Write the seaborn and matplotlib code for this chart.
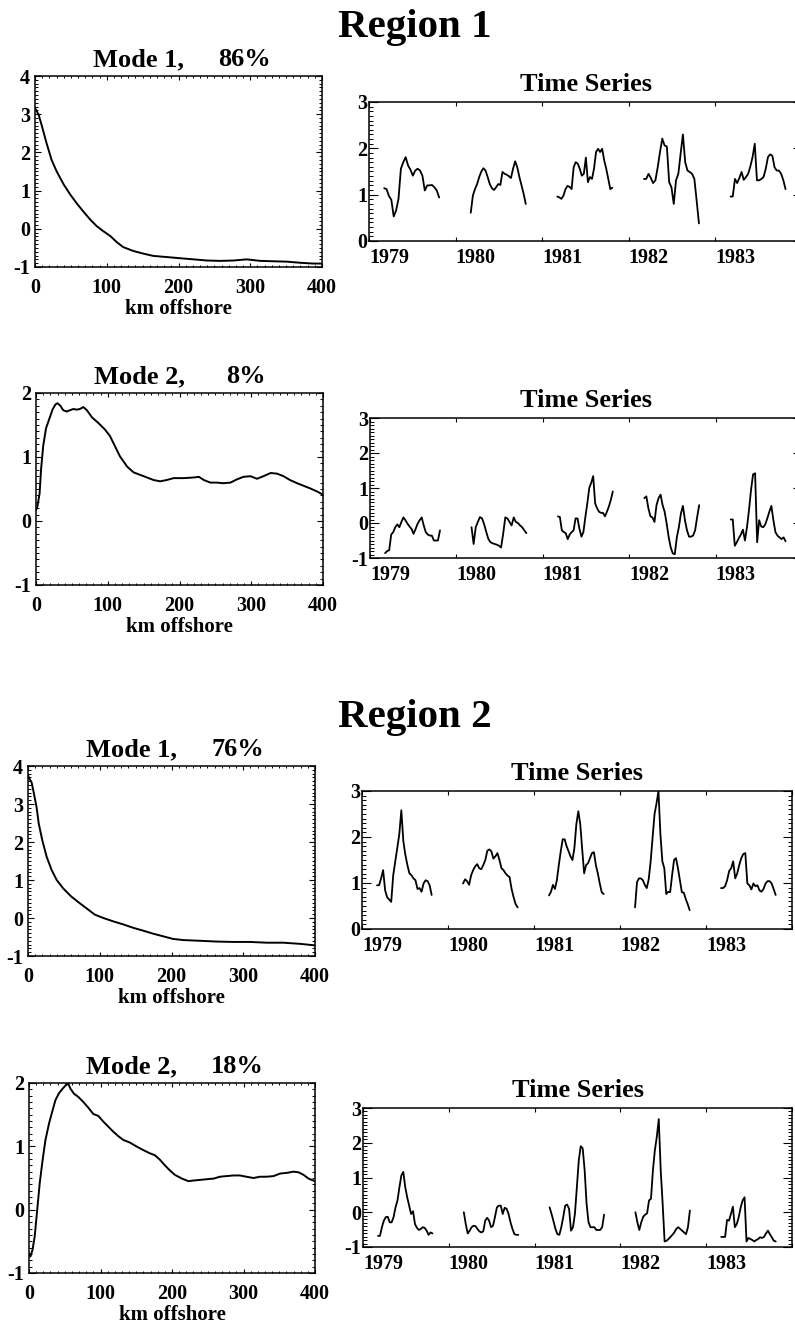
import numpy as np
import pandas as pd
import matplotlib
matplotlib.use("Agg")
import matplotlib.pyplot as plt
from matplotlib.ticker import MultipleLocator
import seaborn as sns

# ---------------------------------------------------------------- data
YEARS = [1979, 1980, 1981, 1982, 1983]
SEASON_START, SEASON_END = 0.175, 0.81   # fraction of year covered each season

# Region 1, spatial mode 1 (86 %)
r1_m1_km = [0, 5, 9, 16, 23, 30, 40, 49, 58, 67, 77, 86, 95, 105, 114, 123, 137,
            151, 165, 184, 202, 221, 240, 258, 277, 295, 314, 332, 351, 370, 388, 400]
r1_m1_val = [3.16, 2.99, 2.73, 2.25, 1.81, 1.51, 1.16, 0.90, 0.67, 0.46, 0.24, 0.07,
             -0.06, -0.19, -0.35, -0.48, -0.58, -0.65, -0.71, -0.74, -0.77, -0.80,
             -0.83, -0.84, -0.83, -0.80, -0.84, -0.85, -0.86, -0.89, -0.91, -0.91]

# Region 1, spatial mode 2 (8 %)
r1_m2_km = [0, 2, 5, 7, 10, 14, 19, 23, 27, 30, 34, 38, 43, 47, 52, 57, 61, 66, 71,
            78, 87, 96, 103, 110, 117, 127, 136, 150, 164, 173, 182, 192, 206, 220,
            227, 234, 243, 252, 261, 271, 280, 289, 299, 308, 317, 327, 336, 345,
            354, 364, 373, 382, 392, 400]
r1_m2_val = [0.17, 0.23, 0.43, 0.80, 1.17, 1.45, 1.61, 1.74, 1.82, 1.84, 1.80, 1.73,
             1.71, 1.73, 1.75, 1.74, 1.75, 1.78, 1.73, 1.62, 1.53, 1.43, 1.33, 1.17,
             1.01, 0.85, 0.76, 0.70, 0.64, 0.62, 0.64, 0.67, 0.67, 0.68, 0.69, 0.64,
             0.60, 0.60, 0.59, 0.60, 0.65, 0.69, 0.70, 0.66, 0.70, 0.75, 0.74, 0.70,
             0.64, 0.59, 0.55, 0.51, 0.46, 0.41]

# Region 2, spatial mode 1 (76 %)
r2_m1_km = [0, 1, 5, 8, 12, 15, 20, 26, 33, 40, 49, 60, 72, 84, 93, 105, 119, 133,
            147, 160, 174, 188, 202, 216, 240, 263, 286, 309, 333, 356, 379, 400]
r2_m1_val = [3.78, 3.70, 3.57, 3.30, 2.91, 2.48, 2.04, 1.61, 1.26, 1.00, 0.78, 0.57,
             0.39, 0.22, 0.09, 0.00, -0.09, -0.17, -0.26, -0.33, -0.41, -0.48, -0.55,
             -0.58, -0.60, -0.62, -0.63, -0.63, -0.65, -0.65, -0.68, -0.72]

# Region 2, spatial mode 2 (18 %)
r2_m2_km = [0, 2, 5, 8, 11, 15, 19, 23, 28, 33, 37, 42, 47, 51, 55, 58, 63, 69, 76,
            83, 90, 97, 104, 111, 118, 125, 132, 141, 150, 160, 169, 176, 183, 190,
            197, 204, 214, 223, 230, 239, 248, 258, 267, 276, 286, 295, 304, 314,
            323, 332, 342, 351, 360, 370, 377, 384, 391, 400]
r2_m2_val = [-0.69, -0.74, -0.63, -0.42, -0.06, 0.42, 0.78, 1.10, 1.36, 1.57, 1.73,
             1.84, 1.91, 1.96, 1.99, 1.91, 1.83, 1.78, 1.70, 1.61, 1.51, 1.48, 1.39,
             1.31, 1.23, 1.16, 1.10, 1.06, 1.00, 0.94, 0.89, 0.86, 0.79, 0.70, 0.62,
             0.55, 0.49, 0.45, 0.46, 0.47, 0.48, 0.49, 0.52, 0.53, 0.54, 0.54, 0.52,
             0.50, 0.52, 0.52, 0.53, 0.57, 0.58, 0.60, 0.59, 0.55, 0.49, 0.45]

# Time series of the amplitudes, one list per season (1979 ... 1983)
r1_m1_ts = [
    [1.14, 1.12, 0.97, 0.89, 0.53, 0.66, 0.91, 1.56, 1.70, 1.81, 1.63, 1.54, 1.41,
     1.52, 1.56, 1.52, 1.41, 1.09, 1.20, 1.20, 1.21, 1.16, 1.09, 0.94],
    [0.61, 0.98, 1.12, 1.23, 1.38, 1.50, 1.57, 1.52, 1.38, 1.23, 1.14, 1.10, 1.16,
     1.23, 1.21, 1.49, 1.45, 1.43, 1.40, 1.36, 1.56, 1.72, 1.59, 1.38, 1.20, 1.02, 0.80],
    [0.96, 0.94, 0.91, 0.98, 1.12, 1.19, 1.17, 1.12, 1.59, 1.70, 1.67, 1.56, 1.41,
     1.45, 1.80, 1.27, 1.38, 1.34, 1.56, 1.92, 1.99, 1.92, 1.99, 1.74, 1.56, 1.34,
     1.12, 1.15],
    [1.34, 1.34, 1.45, 1.36, 1.25, 1.31, 1.59, 1.92, 2.21, 2.06, 2.04, 1.27, 1.16,
     0.80, 1.31, 1.45, 1.88, 2.30, 1.70, 1.52, 1.49, 1.45, 1.34, 0.87, 0.38],
    [0.96, 0.96, 1.34, 1.25, 1.36, 1.49, 1.32, 1.38, 1.45, 1.61, 1.81, 2.10, 1.31,
     1.31, 1.34, 1.38, 1.56, 1.81, 1.87, 1.84, 1.59, 1.52, 1.52, 1.45, 1.31, 1.12],
]
r1_m2_ts = [
    [-0.86, -0.80, -0.78, -0.33, -0.26, -0.12, -0.04, -0.12, 0.03, 0.16, 0.08, -0.02,
     -0.10, -0.17, -0.31, -0.17, -0.02, 0.08, 0.16, -0.07, -0.26, -0.33, -0.36, -0.36,
     -0.50, -0.50, -0.50, -0.21],
    [-0.12, -0.60, -0.12, 0.03, 0.17, 0.13, -0.04, -0.26, -0.46, -0.55, -0.58, -0.60,
     -0.62, -0.65, -0.70, -0.31, 0.16, 0.13, 0.03, -0.07, 0.16, 0.03, 0.00, -0.07,
     -0.12, -0.21, -0.29],
    [0.19, 0.17, -0.21, -0.26, -0.29, -0.46, -0.33, -0.26, -0.21, 0.13, 0.13, -0.17,
     -0.39, -0.26, 0.17, 0.56, 1.00, 1.15, 1.34, 0.56, 0.42, 0.32, 0.29, 0.29, 0.19,
     0.32, 0.47, 0.66, 0.90],
    [0.71, 0.76, 0.42, 0.19, 0.16, 0.03, 0.51, 0.71, 0.81, 0.51, 0.32, -0.02, -0.41,
     -0.70, -0.87, -0.89, -0.41, -0.12, 0.27, 0.49, 0.08, -0.21, -0.39, -0.39, -0.36,
     -0.21, 0.17, 0.51],
    [0.10, 0.10, -0.65, -0.55, -0.43, -0.33, -0.19, -0.50, -0.12, 0.37, 0.95, 1.39,
     1.42, -0.55, 0.08, -0.10, -0.12, -0.04, 0.13, 0.32, 0.49, 0.08, -0.26, -0.36,
     -0.41, -0.46, -0.41, -0.52],
]
r2_m1_ts = [
    [0.95, 0.95, 1.10, 1.28, 0.84, 0.69, 0.64, 0.59, 1.17, 1.47, 1.76, 2.06, 2.58,
     1.91, 1.61, 1.39, 1.21, 1.17, 1.10, 1.06, 0.87, 0.89, 0.81, 0.99, 1.06, 1.04,
     0.95, 0.74],
    [0.99, 1.08, 1.04, 0.96, 1.17, 1.28, 1.36, 1.41, 1.32, 1.30, 1.39, 1.50, 1.70,
     1.73, 1.69, 1.53, 1.58, 1.65, 1.50, 1.32, 1.28, 1.21, 1.16, 1.13, 0.87, 0.69,
     0.54, 0.47],
    [0.73, 0.81, 0.96, 0.87, 1.06, 1.39, 1.69, 1.95, 1.95, 1.80, 1.69, 1.58, 1.50,
     1.76, 2.28, 2.56, 2.28, 1.73, 1.21, 1.39, 1.43, 1.54, 1.65, 1.67, 1.39, 1.21,
     0.99, 0.80, 0.76],
    [0.47, 1.02, 1.10, 1.10, 1.06, 0.96, 0.89, 1.08, 1.47, 1.99, 2.50, 2.73, 3.00,
     2.06, 1.47, 1.32, 0.76, 0.81, 0.80, 1.17, 1.50, 1.54, 1.32, 1.06, 0.80, 0.79,
     0.65, 0.54, 0.41],
    [0.89, 0.89, 0.93, 1.06, 1.26, 1.32, 1.47, 1.10, 1.21, 1.39, 1.54, 1.63, 1.65,
     0.99, 0.95, 0.86, 0.99, 0.93, 0.95, 0.84, 0.81, 0.87, 0.99, 1.04, 1.04, 0.99,
     0.87, 0.74],
]
r2_m2_ts = [
    [-0.68, -0.68, -0.43, -0.24, -0.14, -0.13, -0.29, -0.29, -0.14, 0.14, 0.34, 0.72,
     1.06, 1.16, 0.72, 0.43, 0.19, -0.05, 0.03, -0.34, -0.45, -0.51, -0.48, -0.43,
     -0.45, -0.53, -0.65, -0.58, -0.61],
    [0.00, -0.34, -0.61, -0.53, -0.43, -0.39, -0.40, -0.48, -0.55, -0.58, -0.55,
     -0.24, -0.16, -0.24, -0.43, -0.39, -0.14, 0.14, 0.19, 0.19, -0.05, 0.13, 0.10,
     -0.05, -0.29, -0.48, -0.63, -0.65, -0.65],
    [0.14, -0.05, -0.26, -0.48, -0.63, -0.65, -0.43, -0.14, 0.19, 0.22, 0.10, -0.53,
     -0.43, -0.05, 0.72, 1.50, 1.90, 1.84, 1.21, 0.24, -0.29, -0.43, -0.43, -0.43,
     -0.51, -0.51, -0.51, -0.43, -0.07],
    [0.00, -0.29, -0.51, -0.29, -0.13, -0.07, -0.03, 0.34, 0.39, 1.21, 1.79, 2.17,
     2.68, 1.21, 0.24, -0.84, -0.82, -0.77, -0.71, -0.65, -0.58, -0.48, -0.43, -0.48,
     -0.53, -0.58, -0.63, -0.43, 0.05],
    [-0.71, -0.71, -0.71, -0.22, -0.24, -0.05, 0.16, -0.43, -0.34, -0.14, 0.14, 0.34,
     0.43, -0.84, -0.74, -0.77, -0.80, -0.84, -0.80, -0.77, -0.72, -0.74, -0.71,
     -0.61, -0.53, -0.63, -0.72, -0.82, -0.84],
]

REGION_TITLES = ["Region 1", "Region 2"]
MODE_TITLES = ["Mode 1,", "Mode 2,", "Mode 1,", "Mode 2,"]
VARIANCE = ["86%", "8%", "76%", "18%"]

# ---------------------------------------------------------------- style
sns.set_theme(style="ticks")
plt.rcParams["font.family"] = ["Liberation Serif", "DejaVu Serif"]
plt.rcParams["font.weight"] = "bold"
plt.rcParams["axes.unicode_minus"] = False
plt.rcParams["axes.linewidth"] = 1.1
for key in ("text.color", "axes.labelcolor", "xtick.color", "ytick.color",
            "axes.edgecolor", "xtick.labelcolor", "ytick.labelcolor"):
    plt.rcParams[key] = "black"

W, H = 795, 1327
fig = plt.figure(figsize=(W / 100, H / 100), dpi=100, facecolor="white")


def rect(l, r, t, b):
    return [l / W, 1 - b / H, (r - l) / W, (b - t) / H]


def finish_box(ax):
    for s in ax.spines.values():
        s.set_visible(True)
        s.set_color("black")
        s.set_linewidth(1.1)
    ax.set_xlabel("")
    ax.set_ylabel("")


def profile_panel(box, km, val, ylim, mode_title, pct):
    ax = fig.add_axes(rect(*box))
    sns.lineplot(x=km, y=val, ax=ax, color="black", lw=1.4, sort=True)
    ax.set_xlim(0, 400)
    ax.set_ylim(*ylim)
    ax.set_xticks([0, 100, 200, 300, 400])
    ax.set_yticks(np.arange(ylim[0], ylim[1] + 1))
    ax.xaxis.set_minor_locator(MultipleLocator(10))
    ax.yaxis.set_minor_locator(MultipleLocator(0.1))
    ax.tick_params(which="both", direction="in", top=True, right=True,
                   width=0.8, color="black", labelcolor="black")
    ax.tick_params(axis="x", which="major", length=2.8, pad=8, labelsize=14.5)
    ax.tick_params(axis="x", which="minor", length=1.5, width=0.7)
    ax.tick_params(axis="y", which="major", length=4.2, pad=3.5, labelsize=14.5)
    ax.tick_params(axis="y", which="minor", length=2.1, width=0.7)
    finish_box(ax)
    ax.annotate("km offshore", xy=(0.5, 0), xycoords="axes fraction",
                xytext=(0, -34), textcoords="offset points",
                ha="center", va="baseline", fontsize=15, fontweight="bold")
    ax.annotate(mode_title, xy=(0.36, 1), xycoords="axes fraction",
                xytext=(0, 7), textcoords="offset points",
                ha="center", va="baseline", fontsize=19, fontweight="bold")
    ax.annotate(pct, xy=(0.73, 1), xycoords="axes fraction",
                xytext=(0, 7), textcoords="offset points",
                ha="center", va="baseline", fontsize=19, fontweight="bold")
    return ax


def series_panel(box, seasons, ylim):
    ax = fig.add_axes(rect(*box))
    rows = []
    for yr, vals in zip(YEARS, seasons):
        t = yr + np.linspace(SEASON_START, SEASON_END, len(vals))
        rows += [{"t": ti, "v": vi, "yr": yr} for ti, vi in zip(t, vals)]
    df = pd.DataFrame(rows)
    sns.lineplot(data=df, x="t", y="v", units="yr", estimator=None, ax=ax,
                 color="black", lw=1.3, legend=False)
    ax.set_xlim(YEARS[0], YEARS[-1] + 1)
    ax.set_ylim(*ylim)
    ax.set_xticks(YEARS + [YEARS[-1] + 1])
    ax.set_xticklabels([str(y) for y in YEARS] + [""])
    for lab in ax.get_xticklabels():
        lab.set_ha("left")
    ax.set_yticks(np.arange(ylim[0], ylim[1] + 1))
    ax.yaxis.set_minor_locator(MultipleLocator(0.1))
    ax.tick_params(which="both", direction="in", top=True, right=True,
                   width=0.8, color="black", labelcolor="black")
    ax.tick_params(axis="x", which="major", length=3, pad=5, labelsize=14.5)
    ax.tick_params(axis="y", which="major", length=6.2, pad=1.5, labelsize=14.5)
    ax.tick_params(axis="y", which="minor", length=3.1, width=0.7)
    finish_box(ax)
    ax.annotate("Time Series", xy=(0.5, 1), xycoords="axes fraction",
                xytext=(0, 8), textcoords="offset points",
                ha="center", va="baseline", fontsize=19, fontweight="bold")
    return ax


# ---------------------------------------------------------------- Region 1
fig.text(415 / W, 1 - 37 / H, REGION_TITLES[0], ha="center", va="baseline",
         fontsize=29.5, fontweight="bold", color="black")
profile_panel((35, 322, 76, 267), r1_m1_km, r1_m1_val, (-1, 4), MODE_TITLES[0], VARIANCE[0])
series_panel((369, 802, 102, 241), r1_m1_ts, (0, 3))
profile_panel((36, 323, 393, 585), r1_m2_km, r1_m2_val, (-1, 2), MODE_TITLES[1], VARIANCE[1])
series_panel((370, 802, 418, 558), r1_m2_ts, (-1, 3))

# ---------------------------------------------------------------- Region 2
fig.text(415 / W, 1 - 727 / H, REGION_TITLES[1], ha="center", va="baseline",
         fontsize=29.5, fontweight="bold", color="black")
profile_panel((28, 315, 766, 956), r2_m1_km, r2_m1_val, (-1, 4), MODE_TITLES[2], VARIANCE[2])
series_panel((362, 792, 791, 929), r2_m1_ts, (0, 3))
profile_panel((29, 315, 1083, 1273), r2_m2_km, r2_m2_val, (-1, 2), MODE_TITLES[3], VARIANCE[3])
series_panel((363, 792, 1108, 1247), r2_m2_ts, (-1, 3))

fig.savefig("out.png", dpi=100, facecolor="white")
